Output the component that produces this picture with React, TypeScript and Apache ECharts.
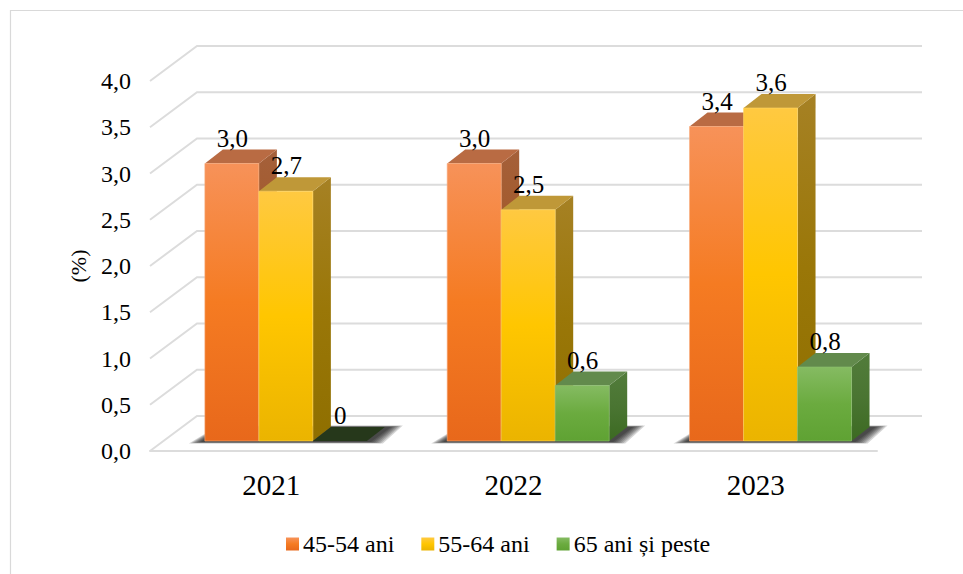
import React, { useEffect, useRef } from "react";
import * as echarts from "echarts";

const categories = ["2021", "2022", "2023"];
const yTicks = [0, 0.5, 1, 1.5, 2, 2.5, 3, 3.5, 4];
const seriesNames = ["45-54 ani", "55-64 ani", "65 ani și peste"];
const values4554 = [3.0, 3.0, 3.4];
const values5564 = [2.7, 2.5, 3.6];
const values65 = [0, 0.6, 0.8];

const FONT = '"Liberation Serif", "Times New Roman", serif';
const GRID = "#dcdcdc";

const grad = (stops: string[]) => ({
  type: "linear", x: 0, y: 0, x2: 0, y2: 1,
  colorStops: stops.map((color, i) => ({ offset: i / (stops.length - 1), color })),
});

const palettes = [
  { front: grad(["#f79259", "#f57b22", "#e8681b"]), edge: "#f9ab7c", top: "#b96b43", side: grad(["#a5603a", "#a0551f", "#8f4a14"]) },
  { front: grad(["#ffc941", "#ffc600", "#ebb400"]), edge: "#ffd766", top: "#bf9838", side: grad(["#a68124", "#9a7708", "#8f6f00"]) },
  { front: grad(["#85bb62", "#6bab3f", "#5fa233"]), edge: "#8fc070", top: "#628a4c", side: grad(["#527c3b", "#4a7532", "#3c6a22"]) },
];

const BAR_W_RATIO = 54 / 242.33;
const GROUP_SHIFT = 14.7;
const FLOOR_LIFT = 10;
const BD_X = 18;
const BD_Y = 14;

const fmt = (v: number) => (v === 0 ? "0" : v.toFixed(1).replace(".", ","));

function barSeries(name: string, values: number[], idx: number) {
  const pal = palettes[idx];
  return {
    type: "custom",
    name,
    silent: true,
    clip: false,
    itemStyle: { color: pal.front },
    encode: { x: 0, y: 1 },
    data: values.map((v, i) => [i, v]),
    z: 3,
    renderItem: (_p: any, api: any) => {
      const cat = api.value(0);
      const v = api.value(1);
      const band = api.size([1, 0])[0];
      const w = band * BAR_W_RATIO;
      const [cx, topRaw] = api.coord([cat, v]);
      const [, baseRaw] = api.coord([cat, 0]);
      const x0 = cx + GROUP_SHIFT + (idx - 1.5) * w;
      const x1 = x0 + w;
      const yb = baseRaw - FLOOR_LIFT;
      const yt = topRaw - FLOOR_LIFT;
      const children: any[] = [];
      if (v === 0) {
        children.push({
          type: "polygon",
          shape: { points: [[x0, yb], [x1, yb], [x1 + BD_X, yb - BD_Y], [x0 + BD_X, yb - BD_Y]] },
          style: { fill: "#26381b" },
        });
      } else {
        children.push({
          type: "polygon",
          shape: { points: [[x1, yt], [x1 + BD_X, yt - BD_Y], [x1 + BD_X, yb - BD_Y], [x1, yb]] },
          style: { fill: pal.side },
        });
        children.push({
          type: "polygon",
          shape: { points: [[x0, yt], [x1, yt], [x1 + BD_X, yt - BD_Y], [x0 + BD_X, yt - BD_Y]] },
          style: { fill: pal.top },
        });
        children.push({
          type: "rect",
          shape: { x: x0, y: yt, width: w, height: yb - yt },
          style: { fill: pal.front, stroke: pal.edge, lineWidth: 0.6 },
        });
      }
      children.push({
        type: "text",
        z2: 20,
        style: {
          text: fmt(v),
          x: x0 + w / 2 + 0.5,
          y: yt - BD_Y + 1,
          fill: "#000",
          font: `25px ${FONT}`,
          align: "center",
          verticalAlign: "bottom",
        },
      });
      return { type: "group", children };
    },
  };
}

const option: any = {
  animation: false,
  backgroundColor: "#fff",
  graphic: [
    {
      type: "polyline",
      silent: true,
      shape: { points: [[10.5, 574], [10.5, 10.5], [963, 10.5]] },
      style: { fill: "none", stroke: "#d9d9d9", lineWidth: 1.2 },
    },
  ],
  legend: {
    data: seriesNames,
    left: 286,
    top: 532,
    itemWidth: 13,
    itemHeight: 13,
    itemGap: 27,
    icon: "rect",
    selectedMode: false,
    padding: 0,
    textStyle: { fontFamily: FONT, fontSize: 24, color: "#000", padding: [0, 0, 0, -1] },
  },
  grid: { left: 150, right: 86, top: 81, bottom: 123 },
  xAxis: {
    type: "category",
    data: categories,
    axisTick: { show: false },
    axisLine: { show: true, lineStyle: { color: GRID, width: 2 } },
    axisLabel: { fontFamily: FONT, fontSize: 29, color: "#000", margin: 19 },
    splitLine: { show: false },
  },
  yAxis: {
    type: "value",
    min: 0,
    max: 4,
    interval: 0.5,
    name: "(%)",
    nameLocation: "middle",
    nameGap: 61,
    nameRotate: 90,
    nameTextStyle: { fontFamily: FONT, fontSize: 22, color: "#000" },
    axisLine: { show: false },
    axisTick: { show: false },
    splitLine: { show: false },
    axisLabel: {
      fontFamily: FONT,
      fontSize: 24,
      color: "#000",
      margin: 19,
      formatter: (v: number) => v.toFixed(1).replace(".", ","),
    },
  },
  series: [
    {
      type: "custom",
      name: "walls",
      silent: true,
      clip: false,
      z: 1,
      encode: { y: 1 },
      data: yTicks.map((t) => [0, t]),
      renderItem: (params: any, api: any) => {
        const cs = params.coordSys;
        const y = api.coord([0, api.value(1)])[1];
        const dx = 47;
        const dy = 35;
        return {
          type: "polyline",
          shape: {
            points: [[cs.x, y], [cs.x + dx, y - dy], [cs.x + cs.width + 45, y - dy]],
          },
          style: { fill: "none", stroke: GRID, lineWidth: 2 },
        };
      },
    },
    {
      type: "custom",
      name: "shadow",
      silent: true,
      clip: false,
      z: 2,
      encode: { x: 0, y: 1 },
      data: categories.map((_, i) => [i, 0]),
      renderItem: (_p: any, api: any) => {
        const band = api.size([1, 0])[0];
        const w = band * BAR_W_RATIO;
        const [cx, y0] = api.coord([api.value(0), 0]);
        const xl = cx + GROUP_SHIFT - 1.5 * w;
        const xr = xl + 3 * w;
        const yb = y0 - FLOOR_LIFT;
        const layers = [12, 10, 8, 6, 4, 2, 0];
        return {
          type: "group",
          children: layers.map((g) => ({
            type: "polygon",
            shape: {
              points: [
                [xl - 4 - g, yb + 1 + g * 0.12],
                [xr + 4 + g, yb + 1 + g * 0.12],
                [xr + BD_X + 6 + g, yb - BD_Y - g * 0.12],
                [xl + BD_X - 2 - g * 0.2, yb - BD_Y - g * 0.12],
              ],
            },
            style: { fill: "rgba(0,0,0,0.16)" },
          })),
        };
      },
    },
    barSeries(seriesNames[0], values4554, 0),
    barSeries(seriesNames[1], values5564, 1),
    barSeries(seriesNames[2], values65, 2),
  ],
};

export default function App() {
  const ref = useRef<HTMLDivElement>(null);
  useEffect(() => {
    const chart = echarts.init(ref.current!, undefined, { renderer: "svg" });
    chart.setOption(option);
    return () => chart.dispose();
  }, []);
  return (
    <div
      ref={ref}
      style={{ position: "absolute", left: 0, top: 0, width: 963, height: 574, background: "#fff" }}
    />
  );
}
